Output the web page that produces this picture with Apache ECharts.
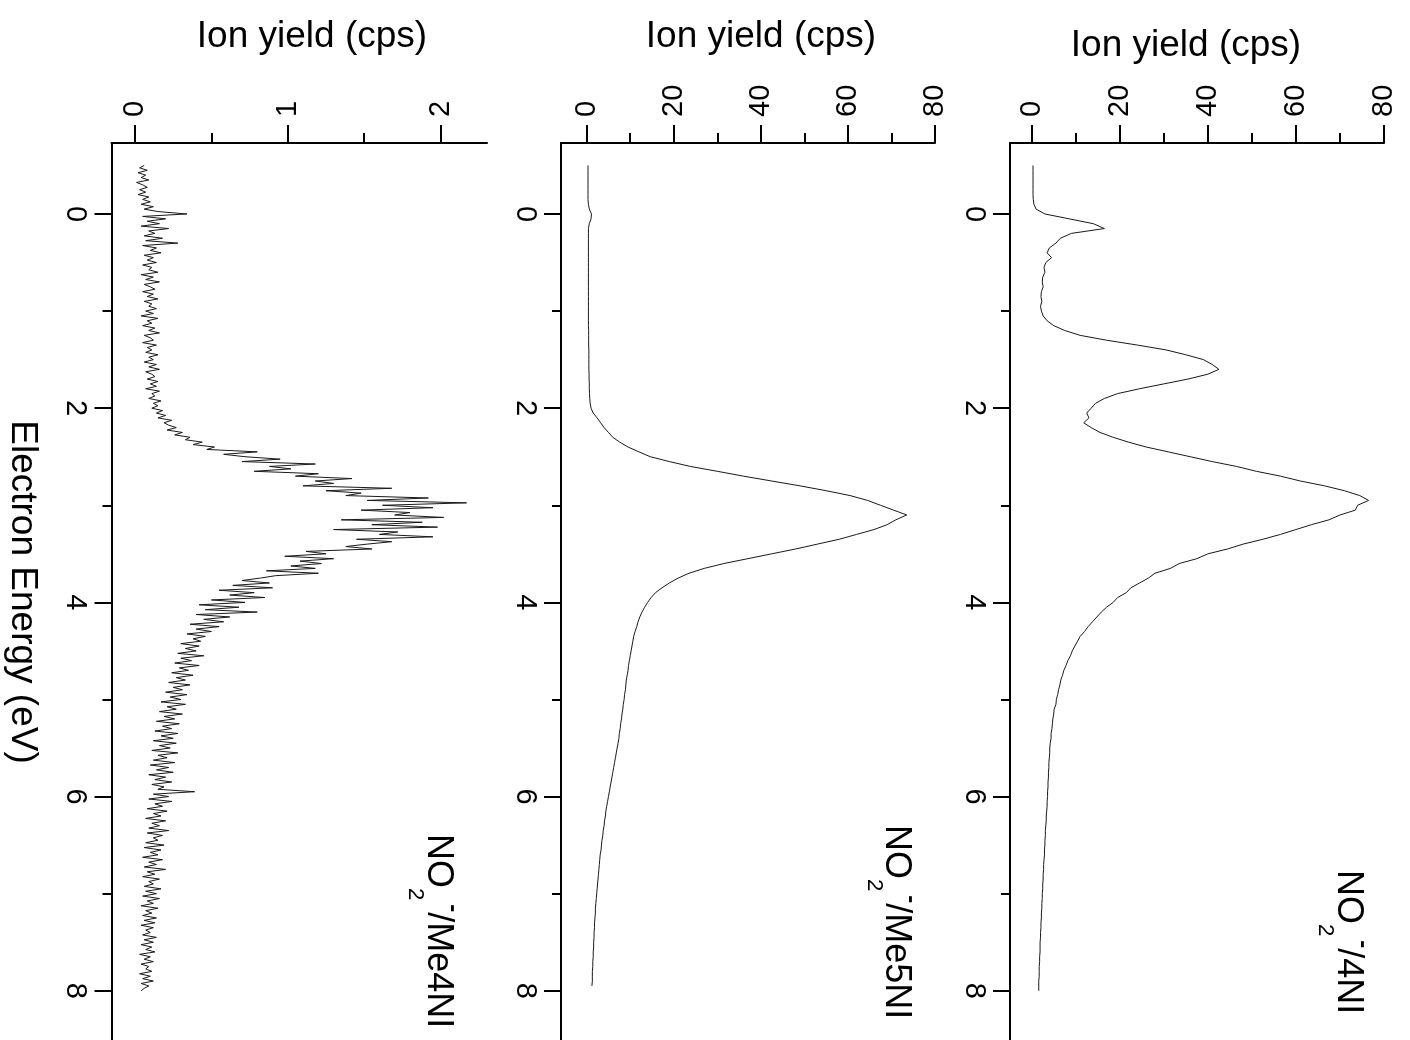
<!DOCTYPE html>
<html><head><meta charset="utf-8">
<script src="https://cdn.jsdelivr.net/npm/echarts@6/dist/echarts.min.js"></script>
<style>html,body{margin:0;padding:0;background:#fff}#c{width:1410px;height:1040px}</style>
</head><body><div id="c"></div>
<script>
// Energy sampling (eV): every spectrum starts at -0.5 eV
const energyStart = -0.5;
const me4niStep = 0.025;
const me5niStep = 0.05;
const ni4Step = 0.05;

// NO2- / Me4NI  (ion yield, cps) — energies -0.500 ... 8.000, step 0.025
const me4ni = [
  0.06,0.03,0.08,0.02,0.07,0.04,0.09,0.01,0.05,0.08,0.03,0.07,0.02,0.09,0.05,0.10,0.04,0.12,0.06,0.15,
  0.34,0.05,0.20,0.08,0.16,0.04,0.22,0.09,0.13,0.06,0.18,0.07,0.28,0.05,0.14,0.10,0.17,0.06,0.12,0.08,
  0.14,0.05,0.11,0.09,0.15,0.04,0.12,0.07,0.16,0.06,0.10,0.13,0.05,0.12,0.08,0.15,0.06,0.11,0.09,0.14,
  0.07,0.12,0.04,0.15,0.08,0.11,0.05,0.13,0.09,0.16,0.06,0.10,0.12,0.05,0.14,0.08,0.11,0.07,0.15,0.09,
  0.12,0.06,0.14,0.09,0.16,0.07,0.11,0.13,0.08,0.15,0.10,0.14,0.07,0.16,0.11,0.13,0.09,0.17,0.12,0.15,
  0.11,0.18,0.14,0.20,0.15,0.24,0.19,0.22,0.27,0.21,0.31,0.26,0.36,0.33,0.44,0.38,0.52,0.47,0.80,0.58,
  0.72,0.95,0.70,1.18,0.88,1.02,0.78,1.20,1.05,1.42,1.18,1.30,1.10,1.68,1.25,1.48,1.38,1.92,1.52,2.17,
  1.62,1.95,1.48,1.80,1.70,2.02,1.35,1.88,1.55,1.98,1.30,1.72,1.60,1.95,1.45,1.68,1.52,1.38,1.55,1.12,
  1.25,0.98,1.30,1.08,1.22,1.02,1.18,0.86,1.20,0.92,0.82,0.70,0.88,0.64,0.90,0.55,0.78,0.62,0.85,0.50,
  0.72,0.42,0.68,0.46,0.80,0.40,0.62,0.45,0.58,0.36,0.55,0.40,0.50,0.34,0.46,0.38,0.43,0.30,0.42,0.33,
  0.40,0.28,0.45,0.30,0.37,0.26,0.42,0.29,0.35,0.24,0.38,0.27,0.33,0.22,0.36,0.25,0.31,0.20,0.34,0.23,
  0.30,0.17,0.33,0.21,0.27,0.16,0.31,0.19,0.26,0.14,0.29,0.18,0.24,0.13,0.28,0.17,0.25,0.12,0.27,0.16,
  0.23,0.11,0.28,0.15,0.21,0.12,0.26,0.10,0.22,0.14,0.25,0.09,0.20,0.13,0.24,0.11,0.19,0.15,0.39,0.12,
  0.22,0.09,0.24,0.13,0.18,0.08,0.21,0.12,0.17,0.07,0.20,0.11,0.16,0.09,0.22,0.08,0.18,0.12,0.15,0.07,
  0.19,0.06,0.17,0.10,0.15,0.05,0.18,0.09,0.14,0.06,0.20,0.08,0.13,0.05,0.16,0.09,0.12,0.06,0.17,0.07,
  0.14,0.05,0.16,0.08,0.12,0.04,0.15,0.07,0.11,0.05,0.14,0.06,0.13,0.04,0.12,0.07,0.10,0.05,0.14,0.06,
  0.12,0.04,0.11,0.07,0.13,0.03,0.10,0.06,0.12,0.04,0.09,0.07,0.11,0.03,0.10,0.05,0.12,0.04,0.09,0.06,
  0.04
];

// NO2- / Me5NI — energies -0.50 ... 7.95, step 0.05
const me5ni = [
  0.3,0.3,0.3,0.3,0.3,0.3,0.3,0.3,0.4,0.6,
  1.1,1.0,0.6,0.4,0.4,0.4,0.4,0.4,0.4,0.4,
  0.4,0.4,0.4,0.4,0.4,0.4,0.4,0.4,0.4,0.4,
  0.4,0.4,0.4,0.4,0.45,0.45,0.45,0.45,0.5,0.5,
  0.5,0.5,0.5,0.55,0.55,0.6,0.6,0.65,0.7,0.8,
  1.0,1.5,2.4,3.2,4.0,5.0,6.0,7.6,9.5,12.0,
  14.6,19.0,23.8,30.0,36.0,42.5,49.0,55.0,60.5,64.5,
  67.5,70.5,73.5,71.0,69.0,66.0,62.0,58.0,53.0,48.0,
  42.5,37.0,31.5,27.0,23.5,21.0,19.0,17.3,15.8,14.8,
  14.0,13.3,12.7,12.2,11.8,11.5,11.1,10.8,10.6,10.4,
  10.2,10.0,9.8,9.6,9.5,9.3,9.1,9.0,8.9,8.7,
  8.6,8.4,8.3,8.1,8.0,7.8,7.7,7.5,7.4,7.2,
  7.0,6.8,6.6,6.4,6.2,6.0,5.8,5.6,5.4,5.2,
  5.0,4.8,4.6,4.4,4.3,4.1,4.0,3.8,3.7,3.5,
  3.4,3.3,3.1,3.0,2.9,2.8,2.7,2.6,2.5,2.4,
  2.3,2.2,2.1,2.0,2.0,1.9,1.8,1.8,1.7,1.7,
  1.6,1.6,1.5,1.5,1.4,1.4,1.3,1.3,1.3,1.2
];

// NO2- / 4NI — energies -0.50 ... 8.00, step 0.05
const ni4 = [
  0.3,0.3,0.3,0.3,0.3,0.3,0.3,0.35,0.5,1.0,
  3.0,8.5,14.0,16.5,9.0,6.5,5.5,4.0,3.5,4.5,
  3.2,2.8,3.0,2.5,2.4,2.6,2.2,2.1,2.3,2.0,
  2.2,2.6,3.5,5.0,7.5,11.0,17.0,24.0,30.5,35.0,
  39.0,41.0,42.5,40.0,35.5,30.0,24.5,19.5,16.5,14.5,
  13.5,12.5,13.0,11.8,13.5,15.5,18.5,22.0,26.0,31.0,
  36.0,41.0,46.5,51.0,56.5,61.0,66.5,71.0,74.5,76.5,
  74.0,73.5,70.0,67.5,63.5,60.0,56.5,52.5,48.0,44.5,
  40.0,37.5,33.5,31.5,28.0,26.5,24.5,22.5,21.5,19.5,
  18.5,17.0,15.8,14.8,13.8,12.8,12.0,11.0,10.4,9.8,
  9.2,8.8,8.2,7.8,7.3,7.0,6.6,6.4,6.1,5.9,
  5.6,5.5,5.1,5.0,4.8,4.7,4.6,4.4,4.4,4.2,
  4.1,4.1,4.0,3.9,3.9,3.8,3.8,3.7,3.7,3.6,
  3.6,3.5,3.5,3.4,3.3,3.3,3.2,3.1,3.1,3.0,
  3.0,2.9,2.9,2.8,2.7,2.7,2.6,2.6,2.5,2.5,
  2.4,2.4,2.3,2.3,2.2,2.2,2.1,2.1,2.0,2.0,
  1.9,1.9,1.9,1.8,1.8,1.7,1.7,1.7,1.6,1.6,
  1.6
];

const panelNames = ['/Me4NI', '/Me5NI', '/4NI'];
const ionMajor1 = [0, 1, 2];
const ionMinor1 = [0.5, 1.5];
const ionMajor23 = [0, 20, 40, 60, 80];
const ionMinor23 = [10, 30, 50, 70];
const energyMajor = [0, 2, 4, 6, 8];
const energyMinor = [1, 3, 5, 7];
const ionTitle = 'Ion yield (cps)';
const energyTitle = 'Electron Energy (eV)';

const FONT = '"Liberation Sans", Arial, Helvetica, sans-serif';
const BLACK = '#000';

function toPairs(vals, step) {
  return vals.map((v, i) => [v, +(energyStart + i * step).toFixed(3)]);
}

const panels = [
  { left: 111.5, width: 375.5, xmin: -0.154, xmax: 2.304, major: ionMajor1, minor: ionMinor1, data: me4ni, step: me4niStep },
  { left: 561, width: 374, xmin: -5.90, xmax: 80, major: ionMajor23, minor: ionMinor23, data: me5ni, step: me5niStep },
  { left: 1010, width: 374, xmin: -4.93, xmax: 80, major: ionMajor23, minor: ionMinor23, data: ni4, step: ni4Step }
];
const EMIN = -0.731, EMAX = 8.507;

const grid = [], xAxis = [], yAxis = [], series = [];
panels.forEach((p, k) => {
  grid.push({ left: p.left, top: 143, width: p.width, bottom: 0, containLabel: false });
  xAxis.push({
    type: 'value', gridIndex: k, position: 'top', min: p.xmin, max: p.xmax,
    axisLine: { show: true, onZero: false, lineStyle: { color: BLACK, width: 2 } },
    axisTick: { show: true, inside: false, length: 18, customValues: p.major, lineStyle: { color: BLACK, width: 2 } },
    axisLabel: { show: true, customValues: p.major, rotate: -90, margin: 26, fontSize: 29, color: BLACK, fontFamily: FONT,
      formatter: v => String(Math.round(v)) },
    splitLine: { show: false }
  });
  xAxis.push({
    type: 'value', gridIndex: k, position: 'top', min: p.xmin, max: p.xmax,
    axisLine: { show: false, onZero: false },
    axisTick: { show: true, inside: false, length: 10, customValues: p.minor, lineStyle: { color: BLACK, width: 2 } },
    axisLabel: { show: false }, splitLine: { show: false }
  });
  yAxis.push({
    type: 'value', gridIndex: k, position: 'left', inverse: true, min: EMIN, max: EMAX,
    axisLine: { show: true, onZero: false, lineStyle: { color: BLACK, width: 2 } },
    axisTick: { show: true, inside: false, length: 17, customValues: energyMajor, lineStyle: { color: BLACK, width: 2 } },
    axisLabel: { show: true, customValues: energyMajor, rotate: -90, margin: 22, fontSize: 29, color: BLACK, fontFamily: FONT,
      formatter: v => String(Math.round(v)) },
    splitLine: { show: false }
  });
  yAxis.push({
    type: 'value', gridIndex: k, position: 'left', inverse: true, min: EMIN, max: EMAX,
    axisLine: { show: false, onZero: false },
    axisTick: { show: true, inside: false, length: 9, customValues: energyMinor, lineStyle: { color: BLACK, width: 2 } },
    axisLabel: { show: false }, splitLine: { show: false }
  });
  series.push({
    type: 'line', xAxisIndex: 2 * k, yAxisIndex: 2 * k, data: toPairs(p.data, p.step),
    showSymbol: false, symbol: 'none', silent: true,
    lineStyle: { color: '#1a1a1a', width: 1 }
  });
});

const titlePos = [[312, 37], [761, 37], [1186, 46]];
const labelPos = [[437.5, 834], [896, 825], [1347.5, 870]];
const graphic = [];
titlePos.forEach(([x, y]) => {
  graphic.push({ type: 'text', x, y, silent: true,
    style: { text: ionTitle, fontSize: 37, fontFamily: FONT, fill: BLACK, align: 'center', verticalAlign: 'middle' } });
});
graphic.push({ type: 'text', x: 22, y: 592, rotation: -Math.PI / 2, silent: true,
  style: { text: energyTitle, fontSize: 37, fontFamily: FONT, fill: BLACK, align: 'center', verticalAlign: 'middle' } });
labelPos.forEach(([x, y], k) => {
  graphic.push({ type: 'text', x, y, rotation: -Math.PI / 2, silent: true,
    style: {
      text: '{a|NO}{b|2}{c|-}{a|' + panelNames[k] + '}',
      align: 'left', verticalAlign: 'middle',
      rich: {
        a: { fontSize: 36, fontFamily: FONT, fill: BLACK, lineHeight: 40 },
        b: { fontSize: 22, fontFamily: FONT, fill: BLACK, lineHeight: 22, padding: [44, 0, 0, 0] },
        c: { fontSize: 24, fontFamily: FONT, fill: BLACK, lineHeight: 22, padding: [0, 0, 30, 4], fontWeight: 'bold' }
      }
    } });
});

const chart = echarts.init(document.getElementById('c'), null, { renderer: 'canvas' });
chart.setOption({
  animation: false,
  backgroundColor: '#fff',
  grid, xAxis, yAxis, series, graphic
});
</script>
</body></html>
